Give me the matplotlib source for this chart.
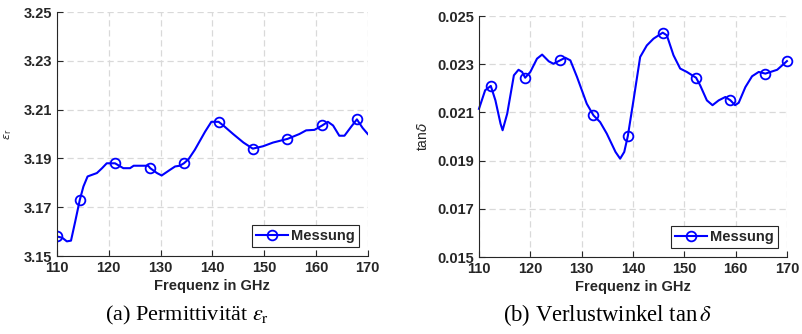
import matplotlib
matplotlib.use("Agg")
import matplotlib.pyplot as plt

# Permittivitaet
f_eps = [110, 111.0, 111.9, 112.7, 113.5, 114.4, 115.1, 115.9, 116.4, 117.7, 118.7, 119.6,
         121.2, 122.8, 124.1, 124.8, 127.6, 128.0, 129.3, 130.2, 131.8, 132.8, 133.7, 134.5,
         135.4, 136.6, 138.6, 139.8, 141.2, 142.1, 144.0, 146.0, 147.8, 149.8, 151.7, 154.5,
         156.8, 158.1, 159.7, 161.2, 162.3, 163.3, 164.5, 165.5, 166.8, 167.9, 169.0, 170]
eps_r = [3.158, 3.1575, 3.156, 3.1563, 3.164, 3.173, 3.1785, 3.1826, 3.183, 3.184, 3.186, 3.188,
         3.188, 3.186, 3.186, 3.187, 3.187, 3.186, 3.184, 3.183, 3.1853, 3.1867, 3.187, 3.188,
         3.1897, 3.1935, 3.201, 3.205, 3.205, 3.2035, 3.200, 3.1965, 3.194, 3.195, 3.1965, 3.198,
         3.200, 3.2015, 3.2017, 3.2035, 3.205, 3.2035, 3.1993, 3.1993, 3.203, 3.206, 3.2025, 3.200]
eps_markers = [0, 5, 12, 17, 23, 28, 32, 35, 39, 45]

# Verlustwinkel
f_tan = [110, 111.2, 112.3, 113.2, 114.2, 114.6, 115.5, 116.8, 117.7, 118.4, 119.0, 120.0,
         121.3, 122.3, 123.6, 124.5, 125.8, 126.8, 127.8, 129.1, 131.0, 132.3, 133.6, 134.9,
         136.6, 137.5, 138.3, 139.0, 140.1, 141.4, 142.7, 144.0, 145.8, 146.6, 147.9, 149.2,
         150.5, 152.3, 153.1, 154.4, 155.5, 156.7, 158.0, 159.0, 159.9, 160.6, 161.9, 163.2,
         164.5, 165.8, 168.1, 170]
tan_d = [0.02115, 0.02192, 0.0221, 0.0215, 0.02053, 0.02026, 0.02095, 0.02254, 0.02277, 0.02268,
         0.02244, 0.02268, 0.02323, 0.0234, 0.02312, 0.02302, 0.02316, 0.02327, 0.02316, 0.02247,
         0.02136, 0.02088, 0.0206, 0.02012, 0.01936, 0.01908, 0.01936, 0.02002, 0.0215, 0.0233,
         0.02378, 0.02406, 0.02431, 0.0242, 0.02337, 0.02282, 0.02268, 0.02244, 0.02212, 0.0215,
         0.0213, 0.0215, 0.02164, 0.0215, 0.0213, 0.0214, 0.02205, 0.0225, 0.02268, 0.02261,
         0.02277, 0.02313]
tan_markers = [2, 10, 16, 21, 27, 32, 37, 43, 49, 51]

x_ticks = [110, 120, 130, 140, 150, 160, 170]
eps_ticks = [3.15, 3.17, 3.19, 3.21, 3.23, 3.25]
tan_ticks = [0.015, 0.017, 0.019, 0.021, 0.023, 0.025]

plt.rcParams['font.family'] = ['Liberation Sans', 'DejaVu Sans']
txt = '#262626'

fig = plt.figure(figsize=(8.03, 3.34), dpi=100)
ax1 = fig.add_axes([0.071, 0.2335, 0.387, 0.7305])
ax2 = fig.add_axes([0.5965, 0.2305, 0.3835, 0.7215])


def style(ax, yticks, yfmt):
    ax.set_xlim(110, 170)
    ax.set_ylim(yticks[0], yticks[-1])
    ax.set_xticks(x_ticks)
    ax.set_yticks(yticks)
    ax.set_yticklabels([yfmt % v for v in yticks])
    ax.grid(True, linestyle=(0, (5, 3)), color='#d9d9d9', linewidth=0.9)
    ax.spines['top'].set_visible(False)
    ax.spines['right'].set_visible(False)
    for s in ('left', 'bottom'):
        ax.spines[s].set_color(txt)
        ax.spines[s].set_linewidth(0.8)
    ax.tick_params(direction='in', length=4, width=0.8, colors=txt, labelsize=10.5)
    for lab in ax.get_xticklabels() + ax.get_yticklabels():
        lab.set_fontweight('bold')
    ax.set_xlabel('Frequenz in GHz', fontsize=10.5, fontweight='bold', color=txt, labelpad=3)
    leg = ax.legend(loc='lower right', prop={'weight': 'bold', 'size': 10.5},
                    fancybox=False, edgecolor=txt, framealpha=1, handlelength=2.2,
                    handletextpad=0.2, borderpad=0.3, borderaxespad=0.6)
    leg.get_frame().set_linewidth(0.8)
    for t in leg.get_texts():
        t.set_color(txt)


ax1.plot(f_eps, eps_r, color='#0000ff', linewidth=1.5, marker='o', markersize=7,
         markerfacecolor='none', markeredgewidth=1.3, markevery=eps_markers, label='Messung')
style(ax1, eps_ticks, '%.2f')
ax1.set_ylabel(r'$\epsilon_{\rm r}$', fontsize=8, color=txt)
ax1.yaxis.set_label_coords(-0.138, 0.5)

ax2.plot(f_tan, tan_d, color='#0000ff', linewidth=1.5, marker='o', markersize=7,
         markerfacecolor='none', markeredgewidth=1.3, markevery=tan_markers, label='Messung',
         clip_on=False)
style(ax2, tan_ticks, '%.3f')
ax2.set_ylabel(r'tan$\delta$', fontsize=10, color=txt)
ax2.yaxis.set_label_coords(-0.16, 0.5)

fig.text(0.233, 0.04, r'(a) Permittivität $\varepsilon_{\mathrm{r}}$', ha='center',
         fontsize=16, family='Liberation Serif', math_fontfamily='stix')
fig.text(0.756, 0.04, r'(b) Verlustwinkel tan$\,\delta$', ha='center',
         fontsize=16.3, family='Liberation Serif', math_fontfamily='stix')

fig.savefig('out.png', dpi=100)
